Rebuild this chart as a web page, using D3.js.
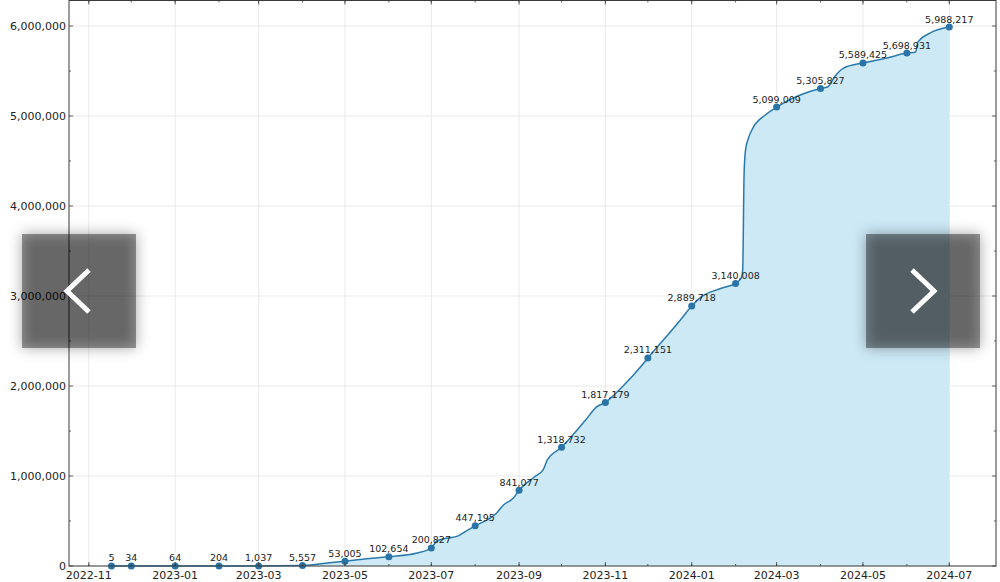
<!DOCTYPE html>
<html>
<head>
<meta charset="utf-8">
<script src="https://cdn.jsdelivr.net/npm/d3@7"></script>
<style>
  body { margin: 0; background: #fff; }
  svg { display: block; font-family: "DejaVu Sans", sans-serif; }
</style>
</head>
<body>
<div id="chart"></div>
<script>
// monthly labelled points
const markDates = ["2022-11-17", "2022-12-01", "2023-01-01", "2023-02-01", "2023-03-01", "2023-04-01",
    "2023-05-01", "2023-06-01", "2023-07-01", "2023-08-01", "2023-09-01", "2023-10-01", "2023-11-01",
    "2023-12-01", "2024-01-01", "2024-02-01", "2024-03-01", "2024-04-01", "2024-05-01", "2024-06-01",
    "2024-07-01"];
const markValues = [5, 34, 64, 204, 1037, 5557, 53005, 102654, 200827, 447195, 841077, 1318732, 1817179,
    2311151, 2889718, 3140008, 5099009, 5305827, 5589425, 5698931, 5988217];

// extra points
const traceDates = ["2023-04-20", "2023-05-15", "2023-06-21", "2023-07-05", "2023-07-21", "2023-07-25",
    "2023-08-16", "2023-08-21", "2023-08-28", "2023-09-12", "2023-09-18", "2023-09-21", "2023-10-18",
    "2023-10-26", "2023-11-13", "2023-11-27", "2023-12-13", "2023-12-24", "2024-01-08", "2024-01-22",
    "2024-02-05", "2024-02-06", "2024-02-07", "2024-02-08", "2024-02-10", "2024-02-13", "2024-02-22",
    "2024-04-06", "2024-04-11", "2024-04-17", "2024-05-17", "2024-06-07", "2024-06-09", "2024-06-17"];
const traceValues = [35000, 78000, 144000, 278000, 344000, 383000, 586000, 678000, 755000, 992000,
    1067000, 1178000, 1622000, 1770000, 1992000, 2233000, 2530000, 2733000, 2992000, 3086000,
    3200000, 3290000, 4350000, 4620000, 4750000, 4860000, 5011000, 5322000, 5437000, 5530000,
    5641000, 5708000, 5826000, 5919000];

const xTickLabels = ["2022-11", "2023-01", "2023-03", "2023-05", "2023-07", "2023-09", "2023-11",
    "2024-01", "2024-03", "2024-05", "2024-07"];
const yTicks = [0, 1000000, 2000000, 3000000, 4000000, 5000000, 6000000];

const parse = d3.utcParse("%Y-%m-%d");
const marks = markDates.map((d, i) => ({ date: parse(d), value: markValues[i] }));
const trace = traceDates.map((d, i) => ({ date: parse(d), value: traceValues[i] }));
const series = marks.concat(trace).sort((a, b) => a.date - b.date);

const width = 1000, height = 582;
const plotLeft = 69, plotRight = 996, plotTop = 0.5, plotBottom = 566;

const x = d3.scaleUtc()
    .domain([parse("2022-10-18"), parse("2024-08-03")])
    .range([plotLeft, plotRight]);
const y = d3.scaleLinear()
    .domain([0, 6000000])
    .range([plotBottom, 26]);

const svg = d3.select("#chart").append("svg")
    .attr("width", width)
    .attr("height", height);

const majorX = xTickLabels.map(s => d3.utcParse("%Y-%m")(s));
const minorX = d3.utcMonth.range(parse("2022-11-01"), parse("2024-08-01"));
const minorY = d3.range(500000, 6500000, 1000000);

// grid
const grid = svg.append("g").attr("stroke", "#e4e4e4").attr("stroke-width", 0.8);
grid.selectAll(".gx").data(majorX).enter().append("line")
    .attr("x1", d => x(d)).attr("x2", d => x(d))
    .attr("y1", plotTop).attr("y2", plotBottom);
grid.selectAll(".gy").data(yTicks).enter().append("line")
    .attr("x1", plotLeft).attr("x2", plotRight)
    .attr("y1", d => y(d)).attr("y2", d => y(d));

// area + line
const area = d3.area()
    .x(d => x(d.date))
    .y0(y(0))
    .y1(d => y(d.value))
    .curve(d3.curveMonotoneX);
const line = d3.line()
    .x(d => x(d.date))
    .y(d => y(d.value))
    .curve(d3.curveMonotoneX);

svg.append("path")
    .datum(series)
    .attr("d", area)
    .attr("fill", "#cde9f6");

svg.append("path")
    .datum(series)
    .attr("d", line)
    .attr("fill", "none")
    .attr("stroke", "#2a79ad")
    .attr("stroke-width", 1.5);

svg.append("g").selectAll("circle")
    .data(marks)
    .enter().append("circle")
    .attr("cx", d => x(d.date))
    .attr("cy", d => y(d.value))
    .attr("r", 3.5)
    .attr("fill", "#2a74a8");

svg.append("g").selectAll("text")
    .data(marks)
    .enter().append("text")
    .attr("x", d => x(d.date))
    .attr("y", d => y(d.value) - 4.5)
    .attr("text-anchor", "middle")
    .attr("font-size", 9.5)
    .attr("fill", "#222")
    .text(d => d3.format(",")(d.value));

// frame
svg.append("rect")
    .attr("x", plotLeft).attr("y", plotTop)
    .attr("width", plotRight - plotLeft).attr("height", plotBottom - plotTop)
    .attr("fill", "none")
    .attr("stroke", "#3a3a3a")
    .attr("stroke-width", 1);

// inward ticks on all four sides
const ticks = svg.append("g").attr("stroke", "#3a3a3a").attr("stroke-width", 0.8);
function tickX(data, len) {
    ticks.selectAll(null).data(data).enter().append("line")
        .attr("x1", d => x(d)).attr("x2", d => x(d))
        .attr("y1", plotBottom).attr("y2", plotBottom - len);
    ticks.selectAll(null).data(data).enter().append("line")
        .attr("x1", d => x(d)).attr("x2", d => x(d))
        .attr("y1", plotTop).attr("y2", plotTop + len);
}
function tickY(data, len) {
    ticks.selectAll(null).data(data).enter().append("line")
        .attr("x1", plotLeft).attr("x2", plotLeft + len)
        .attr("y1", d => y(d)).attr("y2", d => y(d));
    ticks.selectAll(null).data(data).enter().append("line")
        .attr("x1", plotRight).attr("x2", plotRight - len)
        .attr("y1", d => y(d)).attr("y2", d => y(d));
}
tickX(majorX, 4);
tickX(minorX, 2);
tickY(yTicks, 4);
tickY(minorY, 2);

// tick labels
svg.append("g").selectAll("text")
    .data(majorX)
    .enter().append("text")
    .attr("x", d => x(d))
    .attr("y", 579)
    .attr("text-anchor", "middle")
    .attr("font-size", 11)
    .attr("fill", "#222")
    .text((d, i) => xTickLabels[i]);

svg.append("g").selectAll("text")
    .data(yTicks)
    .enter().append("text")
    .attr("x", plotLeft - 3)
    .attr("y", d => y(d) + 4)
    .attr("text-anchor", "end")
    .attr("font-size", 11)
    .attr("fill", "#222")
    .text(d => d3.format(",")(d));

// slideshow arrow overlays
const defs = svg.append("defs");
const f = defs.append("filter").attr("id", "soft")
    .attr("x", "-30%").attr("y", "-30%").attr("width", "160%").attr("height", "160%");
f.append("feGaussianBlur").attr("stdDeviation", 7);

const navs = [
    { x: 22, pts: [[89, 270], [67, 291], [89, 312]] },
    { x: 866, pts: [[912, 270], [934, 291], [912, 312]] }
];
navs.forEach(n => {
    // soft halo behind the box
    svg.append("rect")
        .attr("x", n.x).attr("y", 234)
        .attr("width", 114).attr("height", 114)
        .attr("fill", "rgba(0,0,0,0.35)")
        .attr("filter", "url(#soft)");
    svg.append("rect")
        .attr("x", n.x).attr("y", 234)
        .attr("width", 114).attr("height", 114)
        .attr("fill", "rgba(0,0,0,0.38)");
    svg.append("path")
        .attr("d", d3.line()(n.pts))
        .attr("fill", "none")
        .attr("stroke", "#fff")
        .attr("stroke-width", 5);
});
</script>
</body>
</html>
